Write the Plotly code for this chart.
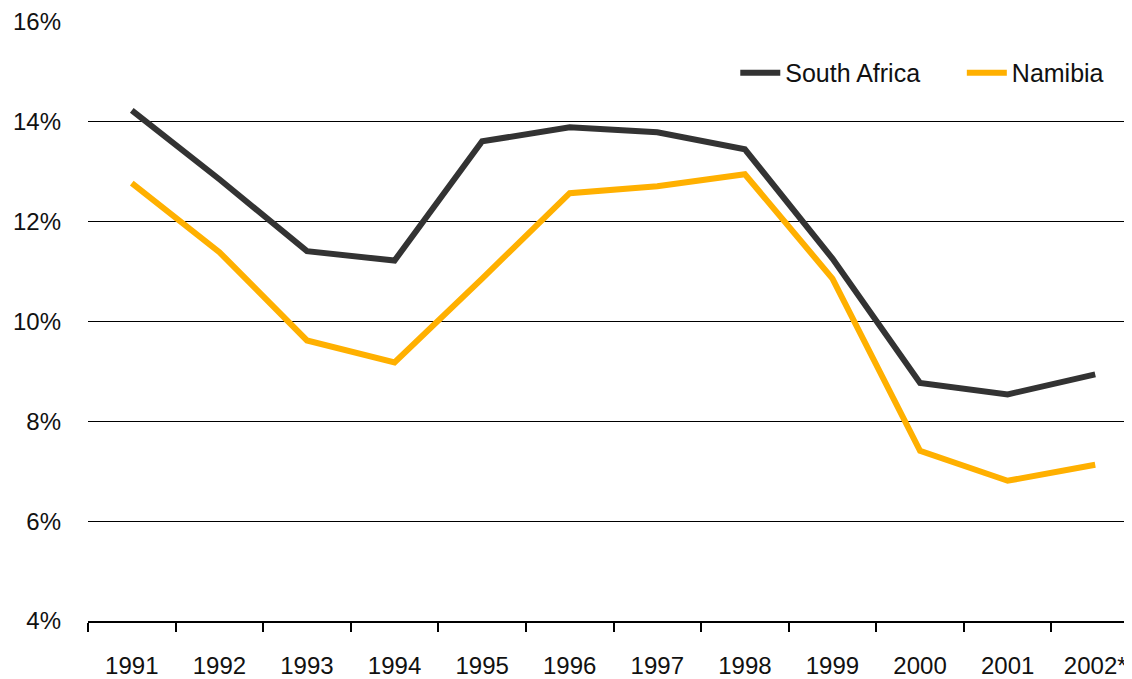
import plotly.graph_objects as go

years = ["1991", "1992", "1993", "1994", "1995", "1996", "1997", "1998", "1999", "2000", "2001", "2002*"]
south_africa = [14.23, 12.85, 11.41, 11.22, 13.61, 13.89, 13.79, 13.45, 11.26, 8.77, 8.54, 8.94]
namibia = [12.77, 11.39, 9.62, 9.18, 10.86, 12.57, 12.71, 12.95, 10.86, 7.41, 6.81, 7.13]

font_family = "Liberation Sans, Arial, Helvetica, sans-serif"

fig = go.Figure()
fig.add_trace(go.Scatter(x=years, y=south_africa, name="South Africa", mode="lines",
                         line=dict(color="#333333", width=6), legend="legend"))
fig.add_trace(go.Scatter(x=years, y=namibia, name="Namibia", mode="lines",
                         line=dict(color="#FFB000", width=6), legend="legend2"))

legend_common = dict(orientation="h", y=0.915, yanchor="middle", xanchor="left",
                     font=dict(size=25), bgcolor="rgba(0,0,0,0)", itemwidth=40)

# page body has an 8px margin, so the figure is sized/offset to compensate
fig.update_layout(
    width=1124, height=671,
    margin=dict(l=80, r=0, t=14, b=55),
    paper_bgcolor="white", plot_bgcolor="white",
    font=dict(family=font_family, size=24, color="#111111"),
    showlegend=True,
    legend=dict(x=0.620, **legend_common),
    legend2=dict(x=0.837, **legend_common),
)
fig.update_xaxes(
    type="category", range=[-0.5, 11.42],
    showgrid=False, showline=True, linecolor="black", linewidth=1.5,
    ticks="outside", tickson="boundaries", ticklen=9, tickcolor="black", tickwidth=1.5,
    ticklabelstandoff=22, zeroline=False,
)
fig.update_yaxes(
    range=[4, 16], dtick=2, tick0=4, ticksuffix="%",
    showgrid=True, gridcolor="black", gridwidth=1.2,
    showline=False, zeroline=False, ticks="", ticklabelstandoff=26,
)

fig.write_html("out.html")
